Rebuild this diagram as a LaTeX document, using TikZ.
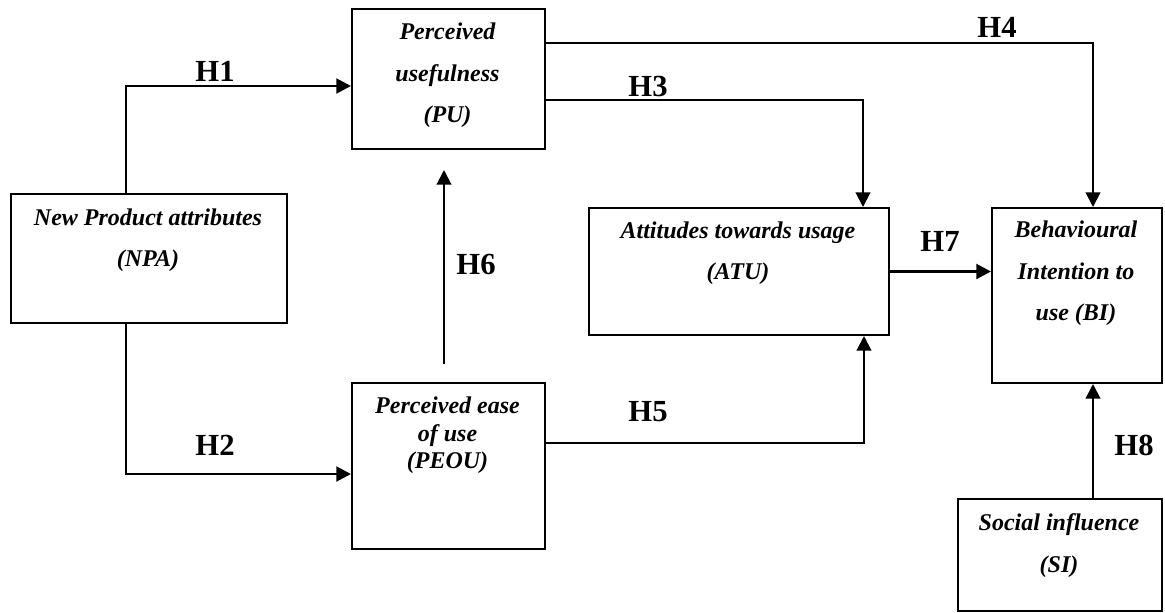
\documentclass[tikz,border=0pt]{standalone}
\usepackage{fontspec}
\setmainfont{Liberation Serif}
\usetikzlibrary{arrows.meta}
\begin{document}
\begin{tikzpicture}[x=0.75pt,y=-0.75pt,
  box/.style={draw, line width=1.5pt, rectangle, inner sep=0pt, anchor=north west},
  txt/.style={font=\fontsize{18}{31}\selectfont\bfseries\itshape, inner sep=0pt, align=center},
  hyp/.style={font=\fontsize{23}{23}\selectfont\bfseries, inner sep=0pt},
  link/.style={line width=1.5pt, -{Triangle[length=11pt,width=11pt]}},
  boldlink/.style={line width=2.2pt, -{Triangle[length=11pt,width=11pt]}}
]
\useasboundingbox (0,0) rectangle (1165,612);

% constructs
\node[box, minimum width=144.75pt, minimum height=105pt]   (pu)   at (351,8)   {};
\node[box, minimum width=207pt,    minimum height=96.75pt] (npa)  at (10,193)  {};
\node[box, minimum width=144.75pt, minimum height=124.5pt] (peou) at (351,382) {};
\node[box, minimum width=225pt,    minimum height=95.25pt] (atu)  at (588,207) {};
\node[box, minimum width=127.5pt,  minimum height=131.25pt](bi)   at (991,207) {};
\node[box, minimum width=153pt,    minimum height=84pt]    (si)   at (957,498) {};

% construct names
\node[txt] (pu-t)   at (447.5,75.5)  {Perceived\\usefulness\\(PU)};
\node[txt] (npa-t)  at (148,240.5)   {New Product attributes\\(NPA)};
\node[txt, font=\fontsize{18}{20.6}\selectfont\bfseries\itshape] (peou-t) at (447.5,435.5) {Perceived ease\\of use\\(PEOU)};
\node[txt] (atu-t)  at (738,253)     {Attitudes towards usage\\(ATU)};
\node[txt] (bi-t)   at (1076,273.5)  {Behavioural\\Intention to\\use (BI)};
\node[txt] (si-t)   at (1059,545.5)  {Social influence\\(SI)};

% hypothesised paths
\draw[boldlink] ([xshift=87pt]npa.north west) |- ([yshift=-5.25pt]pu.west);
\draw[boldlink] ([xshift=87pt]npa.south west) |- ([yshift=-6pt]peou.west);
\draw[link] ([yshift=-15.75pt]pu.east) -| ([xshift=-20.25pt]atu.north east);
\draw[link] ([yshift=27pt]pu.east) -| ([xshift=12pt]bi.north);
\draw[link] ([yshift=17.25pt]peou.east) -| ([xshift=-19.5pt]atu.south east);
\draw[link] ([xshift=-3.375pt,yshift=13.5pt]peou.north) -- ([xshift=-3.375pt,yshift=-15pt]pu.south);
\draw[boldlink] (atu.east) -- (atu.east -| bi.west);
\draw[link] ([xshift=24.75pt]si.north) -- ([xshift=12pt]bi.south);

% hypothesis labels
\node[hyp] (h1) at (215,71)  {H1};
\node[hyp] (h2) at (215,445) {H2};
\node[hyp] (h3) at (648,86)  {H3};
\node[hyp] (h4) at (997,27)  {H4};
\node[hyp] (h5) at (648,412) {H5};
\node[hyp] (h6) at (476,264) {H6};
\node[hyp] (h7) at (940,241) {H7};
\node[hyp] (h8) at (1134,445) {H8};
\end{tikzpicture}
\end{document}
